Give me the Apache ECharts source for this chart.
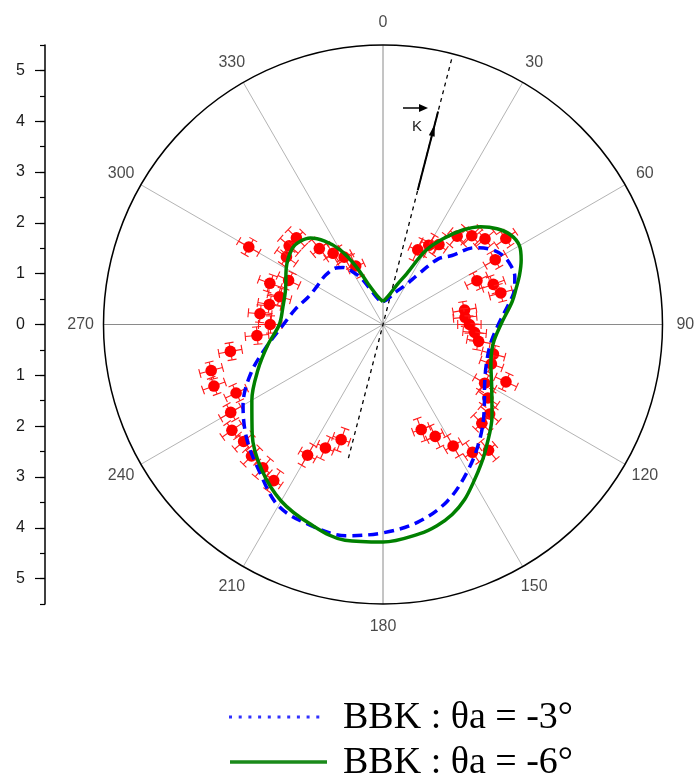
<!DOCTYPE html>
<html><head><meta charset="utf-8">
<script src="https://cdn.jsdelivr.net/npm/echarts@6/dist/echarts.min.js"></script>
<style>html,body{margin:0;padding:0;background:#fff}#c{width:696px;height:778px}</style>
</head><body><div id="c"></div>
<script>
// ---- data ----
const angleTickLabels = [0, 30, 60, 90, 120, 150, 180, 210, 240, 270, 300, 330];
const radiusTickValues = [-5, -4, -3, -2, -1, 0, 1, 2, 3, 4, 5];

const greenAngles = [0,10,20,25,30,35,40,45,50,55,60,65,70,75,80,90,100,110,120,130,140,145,150,155,160,165,170,180,190,200,210,220,230,240,250,260,270,280,290,300,310,315,320,325,330,335,340,350,360];
const greenR =      [0.45,0.56,0.85,1.10,1.68,2.06,2.42,2.72,2.93,3.07,3.10,3.00,2.86,2.71,2.58,2.32,2.20,2.26,2.47,2.80,3.16,3.36,3.57,3.80,3.98,4.10,4.18,4.28,4.31,4.18,4.01,3.72,3.36,2.98,2.62,2.30,2.04,2.00,2.04,2.20,2.33,2.31,2.22,2.00,1.70,1.27,0.85,0.55,0.45];

const blueAngles = [0,10,20,30,35,40,45,50,55,60,65,70,75,80,90,100,110,120,130,140,150,160,170,180,190,200,210,220,230,240,250,260,270,280,290,300,310,320,325,330,335,340,350,360];
const blueR =      [0.45,0.50,0.66,0.90,1.20,1.68,1.92,2.35,2.58,2.72,2.77,2.76,2.68,2.53,2.27,2.15,2.17,2.31,2.60,2.96,3.33,3.70,3.95,4.10,4.22,4.20,4.12,3.78,3.50,3.18,2.76,2.30,1.96,1.75,1.57,1.50,1.49,1.45,1.37,1.20,1.00,0.75,0.50,0.45];

const expAngles = [25,30,35,40,45,50,55,60,65,70,75,80,85,90,95,100,105,110,115,120,125,130,135,140,145,150,155,160,
                   200,205,210,215,220,225,230,235,240,245,250,255,260,265,270,275,280,285,290,295,300,305,310,315,320,325,330,335];
const expR = [1.62,1.80,1.92,2.27,2.47,2.62,2.95,2.55,2.04,2.31,2.40,1.63,1.62,1.70,1.81,1.91,2.25,2.27,2.67,2.31,2.52,2.74,2.75,3.23,3.07,2.76,2.43,2.20,
              2.41,2.68,2.97,3.75,3.68,3.66,3.58,3.63,3.46,3.19,3.54,3.50,3.05,2.49,2.22,2.43,2.27,2.11,2.37,2.05,3.05,2.32,2.41,2.41,1.95,1.71,1.53,1.27];
const expRadialErr = 0.23;   // radial error (units)
const expArcErr = 0.17;      // tangential error (arc length, units)

const kDirection = 14.5;               // incidence direction (deg)
const kDashedR = [5.39, 2.75];         // dashed line extents (radius on each side)
const kSolidR = [2.73, 3.95, 4.33];    // solid segment with arrowhead

// ---- chart ----
const chart = echarts.init(document.getElementById('c'));
const sans = 'Liberation Sans, Arial, sans-serif';
const serif = 'Liberation Serif, Times New Roman, serif';

function zip(a, r) { return a.map((v, i) => [r[i], v]); }

chart.setOption({
  animation: false,
  backgroundColor: '#fff',
  grid: { left: 45, top: 45, bottom: 174, width: 1, containLabel: false },
  xAxis: { type: 'value', show: false },
  yAxis: [
    { type: 'value', min: -5.5, max: 5.5, interval: 0.5, position: 'left',
      axisLine: { show: true, lineStyle: { color: '#000', width: 1.5 } },
      axisTick: { show: true, length: 5, lineStyle: { color: '#000', width: 1.2 } },
      axisLabel: { show: false }, splitLine: { show: false } },
    { type: 'value', min: -5.5, max: 5.5, interval: 0.5, position: 'left',
      axisLine: { show: false },
      axisTick: { show: true, length: 10, customValues: radiusTickValues, lineStyle: { color: '#000', width: 1.2 } },
      axisLabel: { show: true, customValues: radiusTickValues, margin: 20, fontSize: 16, color: '#1a1a1a', fontFamily: sans,
                   formatter: v => String(Math.abs(Math.round(v))) },
      splitLine: { show: false } }
  ],
  polar: { center: [383, 324.5], radius: 279.5 },
  angleAxis: {
    type: 'value', min: 0, max: 360, interval: 30, startAngle: 90, clockwise: true,
    axisLine: { show: true, lineStyle: { color: '#000', width: 1.5 } },
    axisTick: { show: false },
    axisLabel: { show: false },
    splitLine: { show: true, lineStyle: { color: ['#8a8a8a', '#b4b4b4', '#b4b4b4'], width: 1 } }
  },
  radiusAxis: {
    type: 'value', min: 0, max: 5.5,
    axisLine: { show: false }, axisTick: { show: false }, axisLabel: { show: false }, splitLine: { show: false }
  },
  series: [
    { // angle labels
      type: 'scatter', coordinateSystem: 'polar', clip: false, symbolSize: 0, silent: true,
      data: angleTickLabels.map(a => [5.95, a]),
      label: { show: true, position: 'inside', formatter: p => String(p.value[1]), fontSize: 16, color: '#1a1a1a', fontFamily: sans }
    },
    { // dashed K direction line
      type: 'line', coordinateSystem: 'polar', symbol: 'none', z: 3,
      data: [[kDashedR[0], kDirection], [0, 0], [kDashedR[1], kDirection + 180]],
      lineStyle: { color: '#000', width: 1.3, type: [4, 4] }
    },
    { // solid arrow segment
      type: 'line', coordinateSystem: 'polar', z: 3, showSymbol: true,
      data: [
        { value: [kSolidR[0], kDirection], symbol: 'none' },
        { value: [kSolidR[1], kDirection], symbol: 'triangle', symbolSize: [6, 12], symbolRotate: -kDirection,
          itemStyle: { color: '#000' } },
        { value: [kSolidR[2], kDirection], symbol: 'none' }
      ],
      lineStyle: { color: '#000', width: 2 }
    },
    { // experimental points with error bars
      type: 'custom', coordinateSystem: 'polar', z: 4,
      data: zip(expAngles, expR),
      renderItem: function (params, api) {
        const r = api.value(0), a = api.value(1);
        const c = api.coord([r, a]);
        const p0 = api.coord([r - expRadialErr, a]);
        const p1 = api.coord([r + expRadialErr, a]);
        const da = expArcErr / r * 180 / Math.PI;
        const q0 = api.coord([r, a - da]);
        const q1 = api.coord([r, a + da]);
        let ux = p1[0] - p0[0], uy = p1[1] - p0[1];
        const ul = Math.hypot(ux, uy) || 1; ux /= ul; uy /= ul;
        const vx = -uy, vy = ux;
        const cap = 4.5;
        const st = { stroke: '#ff1a1a', lineWidth: 1.1 };
        const seg = (x1, y1, x2, y2) => ({ type: 'line', shape: { x1, y1, x2, y2 }, style: st });
        return {
          type: 'group',
          children: [
            seg(p0[0], p0[1], p1[0], p1[1]),
            seg(p0[0] - vx * cap, p0[1] - vy * cap, p0[0] + vx * cap, p0[1] + vy * cap),
            seg(p1[0] - vx * cap, p1[1] - vy * cap, p1[0] + vx * cap, p1[1] + vy * cap),
            seg(q0[0], q0[1], q1[0], q1[1]),
            seg(q0[0] - ux * cap, q0[1] - uy * cap, q0[0] + ux * cap, q0[1] + uy * cap),
            seg(q1[0] - ux * cap, q1[1] - uy * cap, q1[0] + ux * cap, q1[1] + uy * cap),
            { type: 'circle', shape: { cx: c[0], cy: c[1], r: 5.8 }, style: { fill: '#ff0000' } }
          ]
        };
      }
    },
    { // theory -3
      name: 'BBK -3', type: 'line', coordinateSystem: 'polar', symbol: 'none', smooth: 0.35, z: 5,
      data: zip(blueAngles, blueR),
      lineStyle: { color: '#0000ff', width: 3.5, type: [10, 6] }
    },
    { // theory -6
      name: 'BBK -6', type: 'line', coordinateSystem: 'polar', symbol: 'none', smooth: 0.35, z: 6,
      data: zip(greenAngles, greenR),
      lineStyle: { color: '#008000', width: 3.5 }
    }
  ],
  graphic: [
    // K arrow annotation
    { type: 'line', shape: { x1: 403, y1: 108, x2: 421, y2: 108 }, style: { stroke: '#000', lineWidth: 1.5 } },
    { type: 'polygon', shape: { points: [[428, 108], [419, 104], [419, 112]] }, style: { fill: '#000' } },
    { type: 'text', x: 417, y: 127, style: { text: 'K', fontSize: 15, fontFamily: sans, fill: '#222', align: 'center', verticalAlign: 'middle' } },
    // legend
    { type: 'line', shape: { x1: 229, y1: 717, x2: 326, y2: 717 }, style: { stroke: '#3030ff', lineWidth: 3, lineDash: [3, 6.7] } },
    { type: 'text', x: 343, y: 718, style: { text: 'BBK : θa = -3°', fontSize: 38, fontFamily: serif, fill: '#000', verticalAlign: 'middle' } },
    { type: 'line', shape: { x1: 230, y1: 762, x2: 327, y2: 762 }, style: { stroke: '#1a8a1a', lineWidth: 3.5 } },
    { type: 'text', x: 343, y: 763, style: { text: 'BBK : θa = -6°', fontSize: 38, fontFamily: serif, fill: '#000', verticalAlign: 'middle' } }
  ]
});
</script></body></html>
